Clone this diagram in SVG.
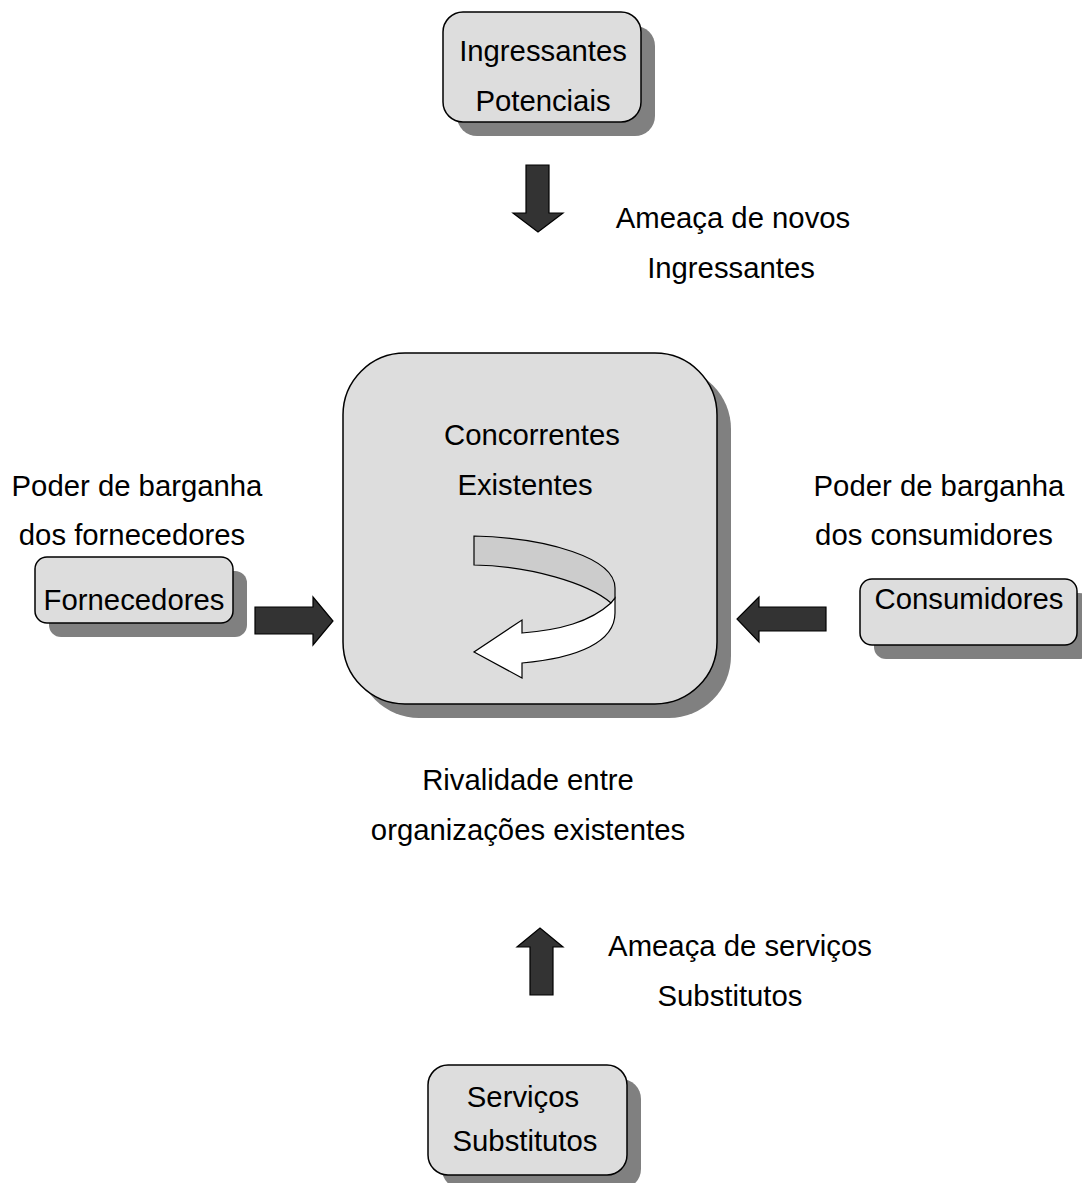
<svg xmlns="http://www.w3.org/2000/svg" width="1082" height="1183" viewBox="0 0 1082 1183">
<style>
.box{fill:#dddddd;stroke:#000;stroke-width:1.5}
.sh{fill:#808080}
.arr{fill:#333333;stroke:#000;stroke-width:1.2}
text{font-family:"Liberation Sans",Arial,sans-serif;font-size:29.3px;fill:#000;text-anchor:middle}
</style>
<rect width="1082" height="1183" fill="#fff"/>
<g id="ingressantes">
<rect class="sh" x="457" y="26" width="198" height="110" rx="20"/>
<rect class="box" x="443" y="12" width="198" height="110" rx="20"/>
<text x="543" y="61">Ingressantes</text>
<text x="543" y="111">Potenciais</text>
</g>
<g id="concorrentes">
<rect class="sh" x="357" y="367" width="374" height="351" rx="62"/>
<rect class="box" x="343" y="353" width="374" height="351" rx="62"/>
<text x="532" y="445">Concorrentes</text>
<text x="525" y="495">Existentes</text>
<path d="M474,536 C548,538 615,558 615,588 L615,598 L611,603 C588,583 530,566 474,565 Z" fill="#cccccc" stroke="#000" stroke-width="1.2"/>
<path d="M611,603 C590,622 560,630 522,633 L522,620 L474,652 L522,678 L522,663 C578,658 615,642 615,613 L615,598 Z" fill="#ffffff" stroke="#000" stroke-width="1.2"/>
</g>
<g id="fornecedores">
<rect class="sh" x="49" y="571" width="198" height="66" rx="12"/>
<rect class="box" x="35" y="557" width="198" height="66" rx="12"/>
<text x="134" y="610">Fornecedores</text>
</g>
<g id="consumidores">
<rect class="sh" x="874" y="593" width="217" height="66" rx="12"/>
<rect class="box" x="860" y="579" width="217" height="66" rx="12"/>
<text x="969" y="609">Consumidores</text>
</g>
<g id="servicos">
<rect class="sh" x="442" y="1079" width="199" height="110" rx="20"/>
<rect class="box" x="428" y="1065" width="199" height="110" rx="20"/>
<text x="523" y="1107">Serviços</text>
<text x="525" y="1151">Substitutos</text>
</g>
<g id="connectors">
<path class="arr" d="M526,165 L549,165 L549,213 L563,213 L538,232 L513,213 L526,213 Z"/>
<path class="arr" d="M255,607 L313,607 L313,597 L333,621 L313,645 L313,634 L255,634 Z"/>
<path class="arr" d="M826,607 L759,607 L759,597 L737,619 L759,642 L759,631 L826,631 Z"/>
<path class="arr" d="M530,995 L553,995 L553,947 L563,947 L540,928 L517,947 L530,947 Z"/>
</g>
<g id="labels">
<text x="733" y="228">Ameaça de novos</text>
<text x="731" y="278">Ingressantes</text>
<text x="137" y="496">Poder de barganha</text>
<text x="132" y="545">dos fornecedores</text>
<text x="939" y="496">Poder de barganha</text>
<text x="934" y="545">dos consumidores</text>
<text x="528" y="790">Rivalidade entre</text>
<text x="528" y="840">organizações existentes</text>
<text x="740" y="956">Ameaça de serviços</text>
<text x="730" y="1006">Substitutos</text>
</g>
</svg>
